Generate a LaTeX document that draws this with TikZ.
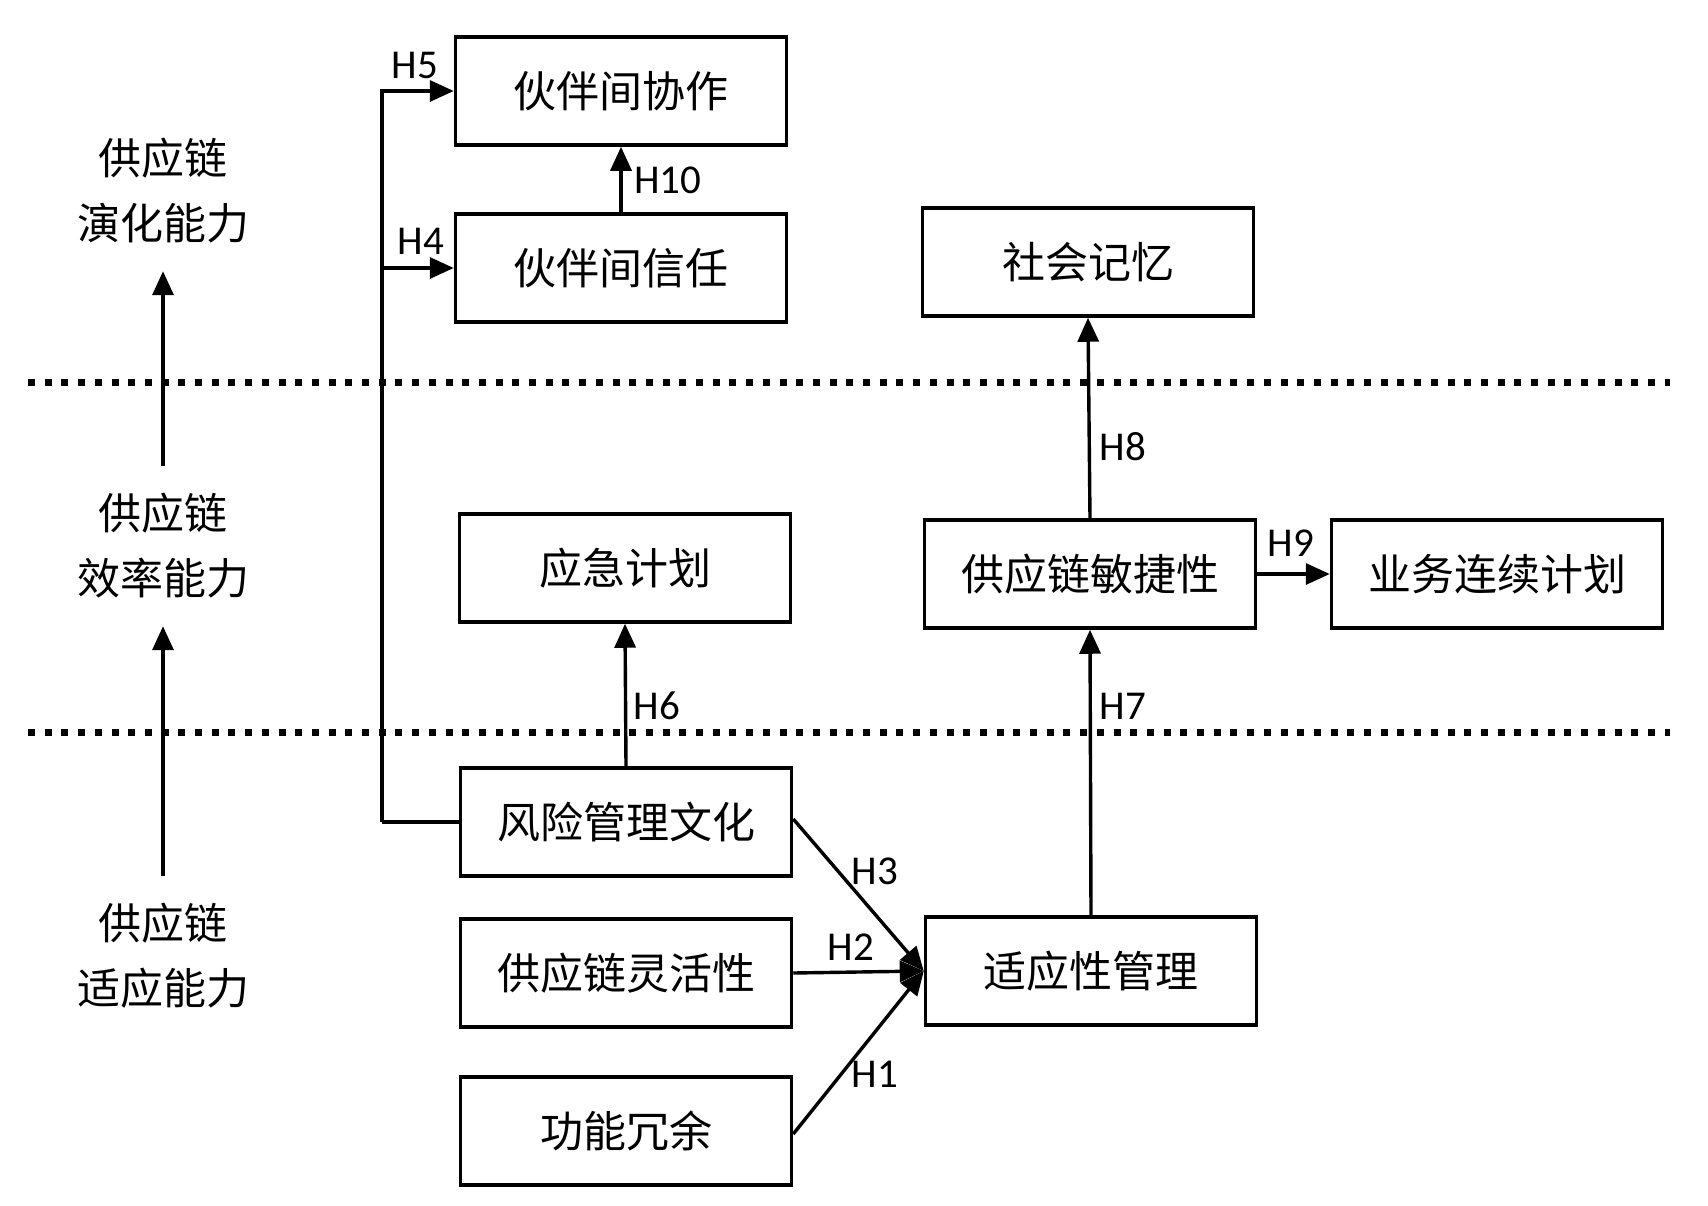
\documentclass[tikz,border=0pt]{standalone}
\usepackage{fontspec}
\newfontfamily\cjk{Noto Sans CJK SC}
\newfontfamily\hlab{Carlito}
\usetikzlibrary{arrows.meta}
\tikzset{
  box/.style={draw, line width=3.5pt, minimum width=331pt, minimum height=108pt, inner sep=0pt, font=\cjk\fontsize{43}{50}\selectfont},
  lvl/.style={align=center, minimum height=160pt, inner sep=0pt, font=\cjk\fontsize{43}{65}\selectfont},
  arr/.style={line width=3.4pt, -{Triangle[length=24pt,width=21pt]}},
  plain/.style={line width=3.4pt},
  hl/.style={inner sep=0pt, font=\hlab\fontsize{41}{48}\selectfont},
  dots/.style={line width=7pt, dash pattern=on 7pt off 9.7pt}
}
\begin{document}
\begin{tikzpicture}[x=1pt,y=-1pt]
\useasboundingbox[fill=white] (0,0) rectangle (1708,1205);
% layer separators
\draw[dots] (28,382) -- (1670,382);
\draw[dots] (28,732) -- (1670,732);
% level labels
\node[lvl] (lvl3) at (163,191) {供应链\\演化能力};
\node[lvl] (lvl2) at (163,546) {供应链\\效率能力};
\node[lvl] (lvl1) at (163,956) {供应链\\适应能力};
\draw[arr] (lvl2.north) -- (lvl3.south);
\draw[arr] (lvl1.north) -- (lvl2.south);
% boxes
\node[box] (collab) at (621,91) {伙伴间协作};
\node[box] (trust) at (621,268) {伙伴间信任};
\node[box] (memory) at (1088,262) {社会记忆};
\node[box] (cont) at (625,568) {应急计划};
\node[box] (agility) at (1090,574) {供应链敏捷性};
\node[box] (bcp) at (1497,574) {业务连续计划};
\node[box] (risk) at (626,822) {风险管理文化};
\node[box] (flex) at (626,973) {供应链灵活性};
\node[box] (redund) at (626,1131) {功能冗余};
\node[box] (adapt) at (1091,971) {适应性管理};
% connectors
\coordinate (vl) at (382,822);
\draw[plain] (risk.west) -- (vl);
\draw[arr] (vl) |- (collab.west);
\draw[arr] (vl |- trust.west) -- (trust.west);
\draw[arr] (trust.north) -- (collab.south);
\draw[arr] (risk.north) -- (cont.south);
\draw[arr] (adapt.north) -- (agility.south);
\draw[arr] (agility.north) -- (memory.south);
\draw[arr] (agility.east) -- (bcp.west);
\draw[arr] ([yshift=3pt]risk.east) -- (adapt.west);
\draw[arr] (flex.east) -- (adapt.west);
\draw[arr] ([yshift=-3pt]redund.east) -- (adapt.west);
% hypothesis labels
\node[hl] (h5) at (415,65) {H5};
\node[hl] (h4) at (421,241) {H4};
\node[hl] (h10) at (668,180) {H10};
\node[hl] (h8) at (1123,447) {H8};
\node[hl] (h9) at (1291,543) {H9};
\node[hl] (h7) at (1123,706) {H7};
\node[hl] (h6) at (657,706) {H6};
\node[hl] (h3) at (875,871) {H3};
\node[hl] (h2) at (851,947) {H2};
\node[hl] (h1) at (875,1074) {H1};
\end{tikzpicture}
\end{document}
